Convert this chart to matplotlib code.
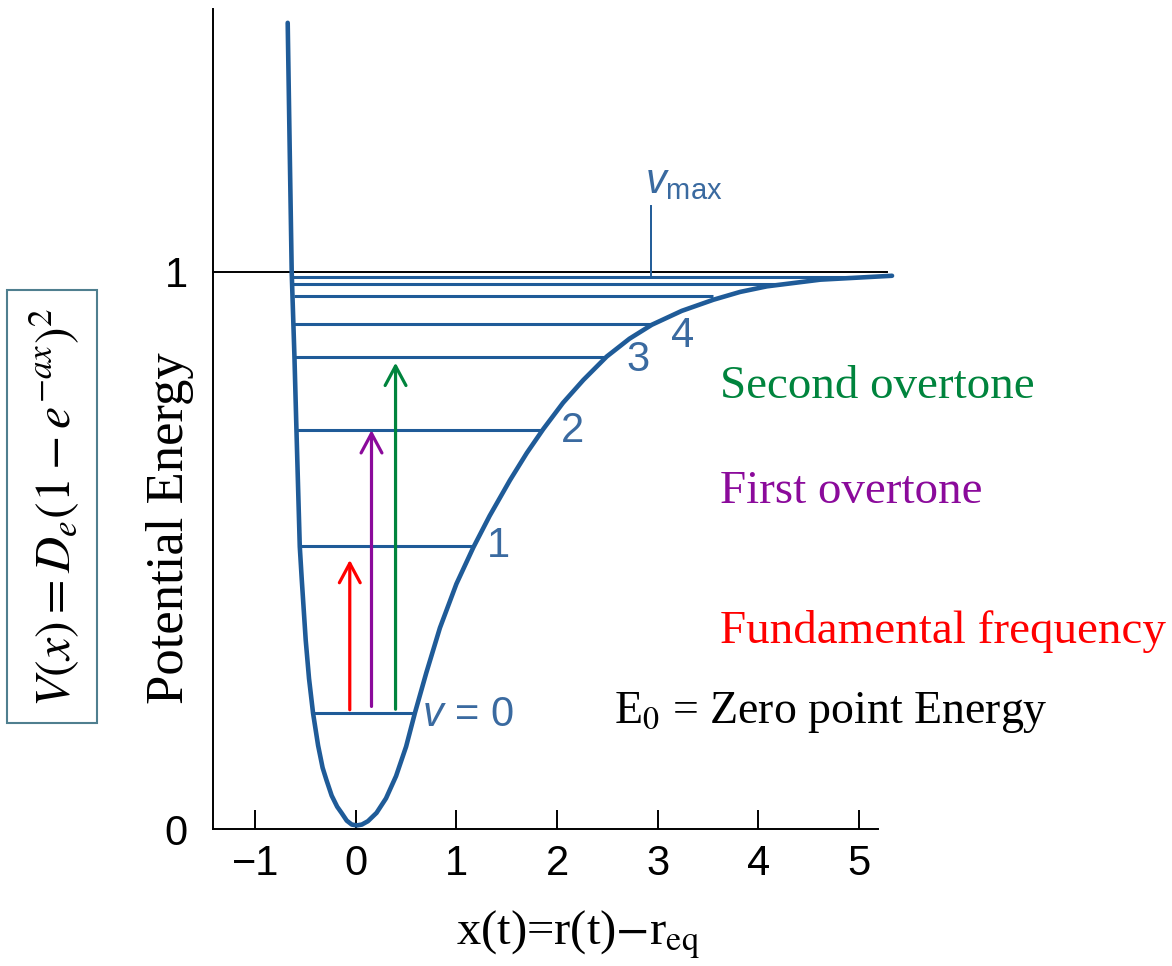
import matplotlib
matplotlib.use("Agg")
import matplotlib.pyplot as plt
from matplotlib.patches import Rectangle

# ------------------------------
# Morse curve (x in bond units, V in units of De)
# ------------------------------
CURVE_X = [-0.677, -0.657, -0.637, -0.610, -0.590, -0.557, -0.537, -0.498,
           -0.465, -0.425, -0.375, -0.330, -0.292, -0.240, -0.185, -0.142,
           -0.090, -0.040, 0.010, 0.060, 0.120, 0.206, 0.300, 0.400, 0.500,
           0.587, 0.700, 0.836, 1.000, 1.167, 1.330, 1.532, 1.700, 1.864,
           2.060, 2.262, 2.494, 2.720, 2.942, 3.240, 3.555, 3.820, 4.086,
           4.617, 5.330]
CURVE_V = [1.447, 1.219, 0.998, 0.848, 0.716, 0.507, 0.447, 0.339,
           0.270, 0.208, 0.150, 0.110, 0.088, 0.060, 0.040, 0.029,
           0.015, 0.008, 0.0065, 0.008, 0.014, 0.029, 0.055, 0.095, 0.148,
           0.208, 0.280, 0.361, 0.440, 0.505, 0.562, 0.626, 0.675, 0.718,
           0.765, 0.806, 0.848, 0.880, 0.905, 0.930, 0.950, 0.964, 0.974,
           0.986, 0.993]

# vibrational levels: energy, left end, right end
LEVEL_V = [0.208, 0.508, 0.716, 0.847, 0.907, 0.956, 0.978, 0.991]
LEVEL_LEFT = [-0.428, -0.557, -0.587, -0.607, -0.617, -0.617, -0.627, -0.627]
LEVEL_RIGHT = [0.587, 1.174, 1.861, 2.488, 2.935, 3.552, 4.249, 4.915]
LEVEL_LABELS = ["1", "2", "3", "4"]
LEVEL_LABEL_X = [1.413, 2.149, 2.806, 3.244]
LEVEL_LABEL_V = [0.508, 0.715, 0.842, 0.885]

# transitions: x position, start, end
ARROW_X = [-0.06, 0.156, 0.395]
ARROW_FROM = [0.214, 0.220, 0.215]
ARROW_TO = [0.483, 0.716, 0.837]
ARROW_COLORS = ["#ff0000", "#8b0a9b", "#00843d"]
ARROW_NAMES = ["Fundamental frequency", "First overtone", "Second overtone"]
NAME_V = [0.354, 0.605, 0.794]

X_TICKS = [-1, 0, 1, 2, 3, 4, 5]
Y_TICKS = [0, 1]
VMAX_X = 2.935

BLUE = "#1f5b98"
LABEL_BLUE = "#3a6aa0"

plt.rcParams["mathtext.fontset"] = "custom"
plt.rcParams["mathtext.rm"] = "Liberation Sans"
plt.rcParams["mathtext.it"] = "Liberation Sans:italic"

fig = plt.figure(figsize=(11.72, 9.66), dpi=100)
ax = fig.add_axes([0.1817, 0.1418, 0.5674, 0.849])

ax.plot(CURVE_X, CURVE_V, color=BLUE, linewidth=3.3, clip_on=False,
        solid_joinstyle="round", solid_capstyle="round", zorder=3)
ax.hlines(LEVEL_V, LEVEL_LEFT, LEVEL_RIGHT, color=BLUE, linewidth=2.2, zorder=2)
ax.plot([-1.42, 5.28], [1, 1], color="black", linewidth=1.4, clip_on=False, zorder=1)
ax.plot([VMAX_X, VMAX_X], [0.995, 1.118], color=BLUE, linewidth=1.4)

for lab, lx, lv in zip(LEVEL_LABELS, LEVEL_LABEL_X, LEVEL_LABEL_V):
    ax.text(lx, lv, lab, color=LABEL_BLUE, fontsize=30, family="Liberation Sans",
            ha="center", va="center")
ax.text(0.657, 0.205, r"$v$ = 0", color=LABEL_BLUE, fontsize=30,
        family="Liberation Sans", ha="left", va="center", math_fontfamily="custom")
ax.text(2.876, 1.142, r"$v_{\mathrm{max}}$", color=LABEL_BLUE, fontsize=30,
        family="Liberation Sans", ha="left", va="baseline", math_fontfamily="custom")

for x, v0, v1, c in zip(ARROW_X, ARROW_FROM, ARROW_TO, ARROW_COLORS):
    ax.annotate("", xy=(x, v1), xytext=(x, v0),
                arrowprops=dict(arrowstyle="->,head_length=1.4,head_width=0.75",
                                color=c, linewidth=2.3, shrinkA=0, shrinkB=0))

for name, v, c in zip(ARROW_NAMES, NAME_V, ARROW_COLORS):
    ax.text(3.62, v, name, color=c, fontsize=33.8, family="Liberation Serif",
            ha="left", va="center")
ax.text(2.567, 0.210, r"E$_0$ = Zero point Energy", color="black", fontsize=33,
        family="Liberation Serif", ha="left", va="center", math_fontfamily="stix")

ax.set_xlim(-1.42, 5.19)
ax.set_ylim(0, 1.472)
for s in ["top", "right"]:
    ax.spines[s].set_visible(False)
for s in ["left", "bottom"]:
    ax.spines[s].set_linewidth(1.4)
ax.set_xticks(X_TICKS)
ax.set_xticklabels([f"{t}".replace("-", "\u2212") for t in X_TICKS])
ax.set_yticks(Y_TICKS)
ax.set_yticklabels([str(t) for t in Y_TICKS])
ax.tick_params(axis="x", direction="in", length=14, width=1.4, pad=11, labelsize=30)
ax.tick_params(axis="y", length=0, pad=18, labelsize=30)
for lab in ax.get_xticklabels() + ax.get_yticklabels():
    lab.set_family("Liberation Sans")

fig.text(170 / 1172, 1 - 528 / 966, "Potential Energy", rotation=90, fontsize=38,
         family="Liberation Serif", ha="center", va="center")
fig.text(578 / 1172, 1 - 935 / 966, r"x(t)=r(t)$-$r$_{\mathrm{eq}}$", fontsize=35,
         family="Liberation Serif", ha="center", va="center", math_fontfamily="stix")

fig.text(55 / 1172, 1 - 507 / 966, r"$V(x) = D_e(1 - e^{-ax})^2$", rotation=90,
         fontsize=36, ha="center", va="center", math_fontfamily="stix")
fig.patches.append(Rectangle((7 / 1172, 1 - 723 / 966), 90 / 1172, 433 / 966,
                             transform=fig.transFigure, fill=False,
                             edgecolor="#4f7f8f", linewidth=1.5))

fig.savefig("out.png", dpi=100)
